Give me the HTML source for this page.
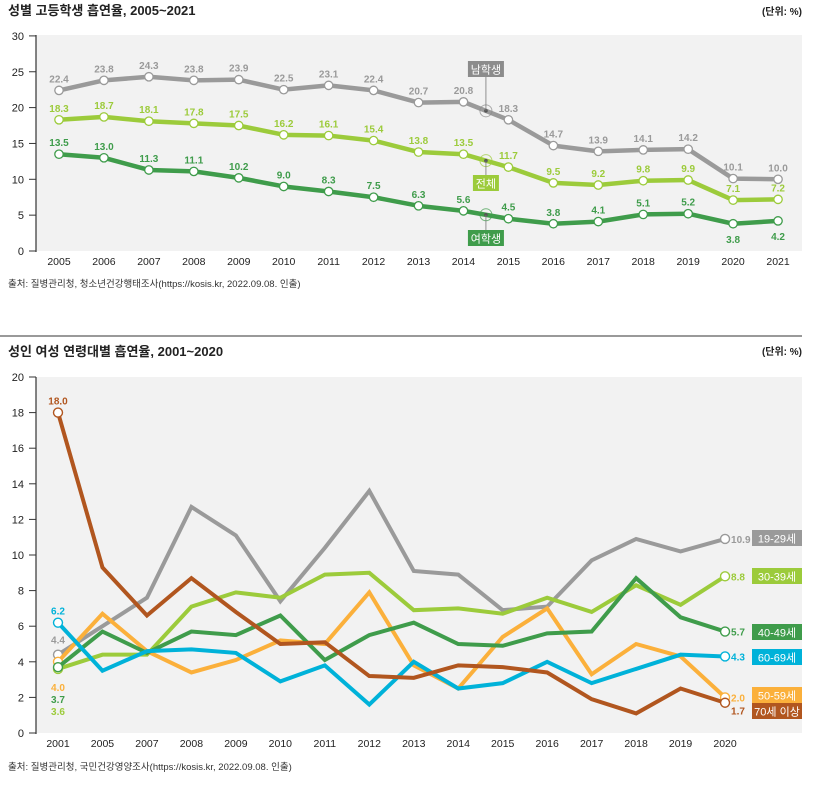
<!DOCTYPE html>
<html><head><meta charset="utf-8"><style>
body{margin:0;background:#fff;width:819px;height:780px;overflow:hidden;font-family:"Liberation Sans","Noto Sans CJK KR",sans-serif}
svg text{font-family:"Liberation Sans","Noto Sans CJK KR",sans-serif}
</style></head><body>
<svg id="c" width="819" height="780"></svg>
<script>
const topYears=["2005","2006","2007","2008","2009","2010","2011","2012","2013","2014","2015","2016","2017","2018","2019","2020","2021"];
const topMale=[22.4,23.8,24.3,23.8,23.9,22.5,23.1,22.4,20.7,20.8,18.3,14.7,13.9,14.1,14.2,10.1,10.0];
const topTotal=[18.3,18.7,18.1,17.8,17.5,16.2,16.1,15.4,13.8,13.5,11.7,9.5,9.2,9.8,9.9,7.1,7.2];
const topFemale=[13.5,13.0,11.3,11.1,10.2,9.0,8.3,7.5,6.3,5.6,4.5,3.8,4.1,5.1,5.2,3.8,4.2];
const topTicks=[0,5,10,15,20,25,30];
const botYears=["2001","2005","2007","2008","2009","2010","2011","2012","2013","2014","2015","2016","2017","2018","2019","2020"];
const s19=[4.4,6.0,7.6,12.7,11.1,7.4,10.4,13.6,9.1,8.9,6.9,7.1,9.7,10.9,10.2,10.9];
const s30=[3.6,4.4,4.4,7.1,7.9,7.6,8.9,9.0,6.9,7.0,6.7,7.6,6.8,8.3,7.2,8.8];
const s40=[3.7,5.7,4.5,5.7,5.5,6.6,4.1,5.5,6.2,5.0,4.9,5.6,5.7,8.7,6.5,5.7];
const s50=[4.0,6.7,4.6,3.4,4.1,5.2,5.0,7.9,3.8,2.5,5.4,7.0,3.3,5.0,4.3,2.0];
const s60=[6.2,3.5,4.6,4.7,4.5,2.9,3.8,1.6,4.0,2.5,2.8,4.0,2.8,3.6,4.4,4.3];
const s70=[18.0,9.3,6.6,8.7,6.8,5.0,5.1,3.2,3.1,3.8,3.7,3.4,1.9,1.1,2.5,1.7];
const botTicks=[0,2,4,6,8,10,12,14,16,18,20];

const svg=document.getElementById('c');const NS='http://www.w3.org/2000/svg';
function mk(t,a,p){const e=document.createElementNS(NS,t);for(const k in a)e.setAttribute(k,a[k]);(p||svg).appendChild(e);return e;}
function tx(x,y,s,a,p){const e=mk('text',Object.assign({x:x,y:y},a),p);e.textContent=s;return e;}
const GRAY='#9a9a9a',LIME='#9ccb3b',GREEN='#3f9c4b',ORANGE='#fbb03b',CYAN='#00b2d9',BROWN='#b1561f';

// ===== Top chart =====
const tx0=59,tdx=44.94,ty0=251,tsy=7.17;
const TX=i=>tx0+i*tdx, TY=v=>ty0-v*tsy;
let e;
e=tx(8,15,'성별 고등학생 흡연율, 2005~2021',{'font-size':13,'font-weight':'bold',fill:'#222'});

e=tx(802,15,'(단위: %)',{'font-size':10,'font-weight':'bold','text-anchor':'end',fill:'#222'});

e=mk('rect',{x:36,y:35,width:766,height:216,fill:'#f2f2f2'});

mk('line',{x1:36,y1:35,x2:36,y2:252,stroke:'#333','stroke-width':1.2});
topTicks.forEach(v=>{mk('line',{x1:29,x2:36,y1:TY(v),y2:TY(v),stroke:'#333'});
 e=tx(24,TY(v)+4,String(v),{'font-size':11,'text-anchor':'end',fill:'#222'});
 });
topYears.forEach((y,i)=>{e=tx(TX(i),265,y,{'font-size':10.5,'text-anchor':'middle',fill:'#222'});
 });
function topSeries(arr,col,name,below){
 const g=mk('g',{});
 mk('polyline',{points:arr.map((v,i)=>TX(i)+','+TY(v)).join(' '),fill:'none',stroke:col,'stroke-width':4.5,'stroke-linejoin':'round'},g);
 arr.forEach((v,i)=>{const c=mk('circle',{cx:TX(i),cy:TY(v),r:4.2,fill:'#fff',stroke:col,'stroke-width':1.3},g);
  
  const b=below&&below(i);
  const t=tx(TX(i),b?TY(v)+19:TY(v)-8,v.toFixed(1),{'font-size':10,'font-weight':'bold','text-anchor':'middle',fill:col},g);
  });
}
topSeries(topMale,GRAY,'male-series');
topSeries(topTotal,LIME,'total-series',i=>false);
topSeries(topFemale,GREEN,'female-series',i=>i>=15);
function callout(vy,ly,col,label,w){
 const x=TX(9.5);const y=TY(vy);
 mk('circle',{cx:x,cy:y,r:6,fill:'none',stroke:col,'stroke-width':1,opacity:0.7});
 mk('circle',{cx:x,cy:y,r:1.8,fill:'#555'});
 mk('line',{x1:x,y1:y,x2:x,y2:ly,stroke:'#777','stroke-width':0.8});
 const r=mk('rect',{x:x-w/2,y:ly-8,width:w,height:16,fill:col});
 
 tx(x,ly+4.5,label,{'font-size':11,'text-anchor':'middle',fill:'#fff'});
}
callout((topMale[9]+topMale[10])/2,69,'#8c8c8c','남학생',36);
callout((topTotal[9]+topTotal[10])/2,183,LIME,'전체',26);
callout((topFemale[9]+topFemale[10])/2,238,GREEN,'여학생',36);
e=tx(8,287,'출처: 질병관리청, 청소년건강행태조사(https://kosis.kr, 2022.09.08. 인출)',{'font-size':9.5,fill:'#333'});


mk('line',{x1:0,y1:336,x2:802,y2:336,stroke:'#333','stroke-width':1});

// ===== Bottom chart =====
const bx0=58,bdx=44.47,by0=733,bsy=17.8;
const BX=i=>bx0+i*bdx, BY=v=>by0-v*bsy;
e=tx(8,356,'성인 여성 연령대별 흡연율, 2001~2020',{'font-size':13,'font-weight':'bold',fill:'#222'});

e=tx(802,355,'(단위: %)',{'font-size':10,'font-weight':'bold','text-anchor':'end',fill:'#222'});

e=mk('rect',{x:36,y:377,width:766,height:356,fill:'#f2f2f2'});

mk('line',{x1:36,y1:377,x2:36,y2:734,stroke:'#333','stroke-width':1.2});
botTicks.forEach(v=>{mk('line',{x1:29,x2:36,y1:BY(v),y2:BY(v),stroke:'#333'});
 e=tx(24,BY(v)+4,String(v),{'font-size':11,'text-anchor':'end',fill:'#222'});
 });
botYears.forEach((y,i)=>{e=tx(BX(i),747,y,{'font-size':10.5,'text-anchor':'middle',fill:'#222'});
 });
const series=[[s19,GRAY,'19-29세','age-19-29'],[s30,LIME,'30-39세','age-30-39'],[s50,ORANGE,'50-59세','age-50-59'],[s40,GREEN,'40-49세','age-40-49'],[s60,CYAN,'60-69세','age-60-69'],[s70,BROWN,'70세 이상','age-70-plus']];
const legendY={'age-19-29':538,'age-30-39':576,'age-40-49':632,'age-60-69':657,'age-50-59':695,'age-70-plus':711};
// start-label placement: 'above' or fixed slot below the cluster (slot index)
const startSlot={'age-19-29':'above','age-60-69':'above','age-70-plus':'above','age-50-59':0,'age-40-49':1,'age-30-39':2};
series.forEach(([arr,col,lab,name])=>{
 const g=mk('g',{});
 mk('polyline',{points:arr.map((v,i)=>BX(i)+','+BY(v)).join(' '),fill:'none',stroke:col,'stroke-width':4,'stroke-linejoin':'miter'},g);
 const n=arr.length-1;
 [0,n].forEach(i=>{const c=mk('circle',{cx:BX(i),cy:BY(arr[i]),r:4.5,fill:'#fff',stroke:col,'stroke-width':1.4},g);
  });
 const sl=startSlot[name];
 const minStart=Math.min(s30[0],s40[0],s50[0]);
 const sy=sl==='above'?BY(arr[0])-(name==='age-19-29'?11:8):BY(minStart)+22+sl*12;
 let t=tx(BX(0),sy,arr[0].toFixed(1),{'font-size':10,'font-weight':'bold','text-anchor':'middle',fill:col},g);
 
 const ly=legendY[name];
 t=tx(BX(n)+6,name==='age-70-plus'?BY(arr[n])+12:BY(arr[n])+4,arr[n].toFixed(1),{'font-size':10,'font-weight':'bold',fill:col},g);
 
 const r=mk('rect',{x:752,y:ly-8,width:50,height:16,fill:col},g);
 
 tx(777,ly+4.5,lab,{'font-size':11,'text-anchor':'middle',fill:'#fff'},g);
});
e=tx(8,770,'출처: 질병관리청, 국민건강영양조사(https://kosis.kr, 2022.09.08. 인출)',{'font-size':9.5,fill:'#333'});

</script>
</body></html>
